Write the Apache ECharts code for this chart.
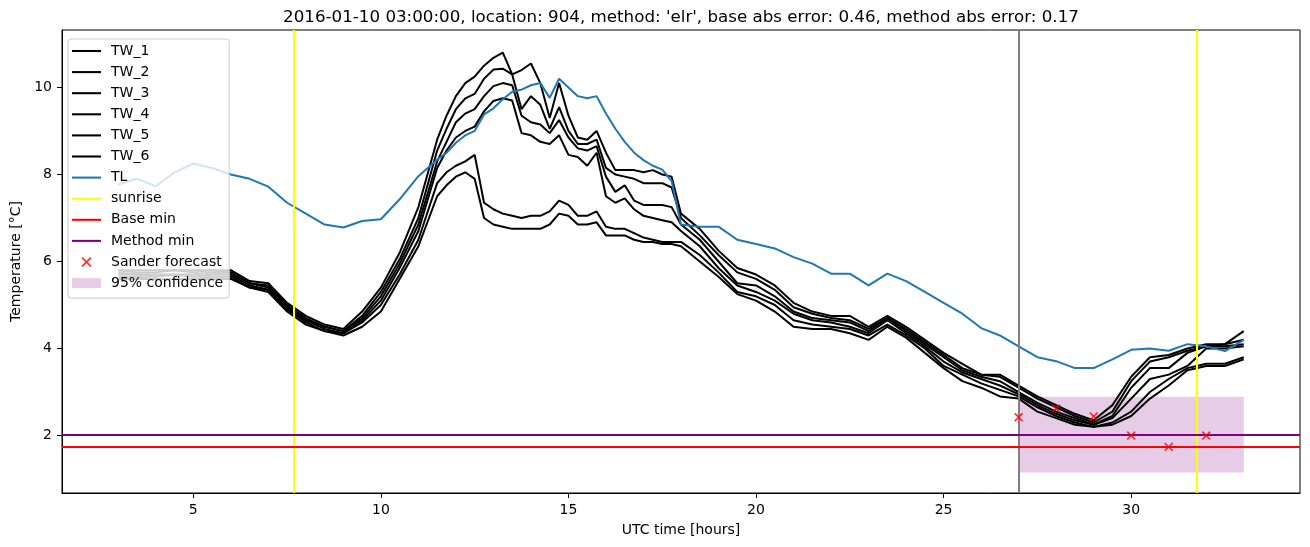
<!DOCTYPE html>
<html>
<head>
<meta charset="utf-8">
<script src="https://cdn.jsdelivr.net/npm/echarts@6/dist/echarts.min.js"></script>
<style>
  html, body { margin: 0; padding: 0; background: #fff; }
  #chart { width: 1310px; height: 547px; }
</style>
</head>
<body>
<div id="chart"></div>
<script>
// readings in UTC hours from 2016-01-10 00:00 (half-hourly, quarter-hourly around the peak)
const hours = [3, 3.5, 4, 4.5, 5, 5.5, 6, 6.5, 7, 7.5, 8, 8.5, 9, 9.5, 10, 10.5, 11, 11.5,
  11.75, 12, 12.25, 12.5, 12.75, 13, 13.25, 13.5, 13.75, 14, 14.25, 14.5, 14.75, 15, 15.25, 15.5, 15.75, 16, 16.25, 16.5, 16.75, 17, 17.25, 17.5, 17.75,
  18, 18.5, 19, 19.5, 20, 20.5, 21, 21.5, 22, 22.5, 23, 23.5, 24, 24.5, 25, 25.5, 26, 26.5, 27, 27.5, 28, 28.5, 29, 29.5, 30, 30.5, 31, 31.5, 32, 32.5, 33]

const tw1 = [5.8, 5.8, 5.8, 5.8, 5.8, 5.8, 5.8, 5.55, 5.5, 5.05, 4.75, 4.55, 4.45, 4.85, 5.4, 6.2, 7.25, 8.8,
  9.35, 9.8, 10.1, 10.25, 10.5, 10.68, 10.8, 10.3, 10.4, 10.55, 10.1, 9.3, 10.1, 9.35, 8.85, 8.8, 9.0, 8.5, 8.1, 8.1, 8.1, 8.05, 8.1, 8.0, 7.95,
  7.1, 6.75, 6.25, 5.85, 5.7, 5.45, 5.05, 4.85, 4.75, 4.75, 4.5, 4.75, 4.5, 4.2, 3.9, 3.65, 3.4, 3.4, 3.15, 2.9, 2.7, 2.5, 2.35, 2.7, 3.35, 3.8, 3.85, 4.0, 4.1, 4.1, 4.4]
const tw2 = [5.8, 5.75, 5.75, 5.8, 5.75, 5.8, 5.75, 5.5, 5.45, 5.0, 4.7, 4.5, 4.4, 4.75, 5.3, 6.05, 7.0, 8.55,
  9.05, 9.5, 9.75, 9.85, 10.2, 10.41, 10.43, 10.3, 9.5, 9.8, 9.6, 9.05, 9.55, 9.0, 8.7, 8.7, 8.8, 8.15, 8.0, 7.95, 7.9, 7.8, 7.8, 7.8, 7.7,
  7.0, 6.6, 6.15, 5.75, 5.6, 5.35, 4.95, 4.8, 4.7, 4.65, 4.45, 4.7, 4.45, 4.15, 3.85, 3.55, 3.4, 3.35, 3.1, 2.85, 2.65, 2.45, 2.3, 2.55, 3.25, 3.7, 3.8, 3.95, 4.05, 4.1, 4.2]
const tw3 = [5.75, 5.7, 5.7, 5.7, 5.7, 5.75, 5.75, 5.5, 5.4, 4.95, 4.65, 4.5, 4.4, 4.7, 5.2, 5.95, 6.85, 8.3,
  8.75, 9.2, 9.4, 9.5, 9.8, 10.03, 10.1, 10.05, 9.35, 9.2, 9.15, 8.95, 9.25, 8.85, 8.6, 8.55, 8.65, 7.95, 7.6, 7.75, 7.4, 7.3, 7.3, 7.3, 7.25,
  6.85, 6.5, 6.0, 5.5, 5.45, 5.2, 4.85, 4.7, 4.65, 4.6, 4.4, 4.7, 4.4, 4.1, 3.8, 3.5, 3.35, 3.25, 3.0, 2.75, 2.55, 2.4, 2.25, 2.45, 3.1, 3.55, 3.55, 3.9, 4.05, 4.05, 4.1]
const tw4 = [5.7, 5.7, 5.65, 5.7, 5.65, 5.7, 5.7, 5.45, 5.35, 4.95, 4.65, 4.45, 4.35, 4.65, 5.1, 5.85, 6.7, 8.15,
  8.55, 8.85, 9.0, 9.1, 9.45, 9.69, 9.75, 9.7, 8.95, 8.9, 8.75, 8.7, 8.9, 8.45, 8.4, 8.2, 8.5, 7.5, 7.35, 7.45, 7.2, 7.05, 7.0, 6.95, 6.9,
  6.7, 6.35, 5.85, 5.45, 5.3, 5.1, 4.8, 4.65, 4.6, 4.5, 4.35, 4.65, 4.35, 4.05, 3.7, 3.45, 3.3, 3.15, 2.95, 2.7, 2.5, 2.35, 2.25, 2.4, 2.85, 3.3, 3.4, 3.6, 4.0, 4.0, 4.05]
const tw5 = [5.65, 5.65, 5.6, 5.6, 5.6, 5.65, 5.65, 5.4, 5.35, 4.9, 4.6, 4.4, 4.35, 4.6, 5.0, 5.7, 6.5, 7.8,
  8.05, 8.2, 8.3, 8.45, 7.35, 7.2, 7.1, 7.05, 7.0, 7.05, 7.05, 7.15, 7.4, 7.3, 7.05, 7.05, 7.15, 6.8, 6.75, 6.75, 6.65, 6.55, 6.5, 6.45, 6.45,
  6.45, 6.15, 5.75, 5.3, 5.2, 5.0, 4.65, 4.55, 4.5, 4.45, 4.3, 4.55, 4.3, 4.0, 3.6, 3.4, 3.2, 3.05, 2.9, 2.65, 2.45, 2.3, 2.2, 2.3, 2.55, 3.0, 3.3, 3.55, 3.65, 3.65, 3.8]
const tw6 = [5.6, 5.6, 5.6, 5.6, 5.6, 5.6, 5.6, 5.4, 5.3, 4.85, 4.55, 4.4, 4.3, 4.5, 4.85, 5.6, 6.35, 7.5,
  7.75, 7.95, 8.05, 7.9, 7.0, 6.85, 6.8, 6.75, 6.75, 6.75, 6.75, 6.85, 7.1, 7.05, 6.85, 6.85, 6.9, 6.6, 6.6, 6.6, 6.5, 6.45, 6.45, 6.4, 6.4,
  6.35, 6.0, 5.65, 5.25, 5.1, 4.85, 4.5, 4.45, 4.45, 4.35, 4.2, 4.5, 4.25, 3.9, 3.55, 3.25, 3.1, 2.9, 2.85, 2.55, 2.4, 2.25, 2.2, 2.25, 2.45, 2.85, 3.15, 3.5, 3.6, 3.6, 3.75]
const tl = [7.77, 7.9, 7.73, 8.05, 8.25, 8.15, 8.0, 7.9, 7.72, 7.35, 7.1, 6.85, 6.78, 6.93, 6.97, 7.43, 7.96, 8.34,
  8.5, 8.73, 8.9, 9.0, 9.38, 9.52, 9.73, 9.9, 9.95, 10.05, 10.1, 9.76, 10.2, 10.0, 9.8, 9.75, 9.8, 9.4, 9.05, 8.75, 8.5, 8.33, 8.2, 8.11, 7.85,
  6.85, 6.8, 6.8, 6.5, 6.4, 6.3, 6.1, 5.95, 5.72, 5.72, 5.45, 5.72, 5.55, 5.3, 5.05, 4.8, 4.47, 4.3, 4.05, 3.8, 3.71, 3.55, 3.55, 3.75, 3.97, 4.0, 3.95, 4.1, 4.05, 3.94, 4.2]

const sunriseHours = [7.69, 31.74]
const forecastStart = 27.0
const baseMin = 1.75
const methodMin = 2.03

const sanderHours = [27, 28, 29, 30, 31, 32]
const sanderValues = [2.42, 2.62, 2.44, 2.0, 1.74, 2.0]

const confHours = [27, 33]
const confRange = [1.15, 2.89]

const xTicks = [5, 10, 15, 20, 25, 30]
const yTicks = [2, 4, 6, 8, 10]

const font = 'DejaVu Sans'
const lineIcon = 'path://M0,0H14V1H0Z'
const crossIcon = 'path://M0,1.3L1.3,0L5,3.7L8.7,0L10,1.3L6.3,5L10,8.7L8.7,10L5,6.3L1.3,10L0,8.7L3.7,5Z'

const pairs = vals => hours.map((h, i) => [h, vals[i]])

function twSeries(name, vals) {
  return {
    name: name,
    type: 'line',
    data: pairs(vals),
    symbol: 'none',
    color: '#000',
    lineStyle: { width: 2, color: '#000' },
    z: 3
  }
}

// vertical / horizontal reference lines
function refLine(name, color, lines) {
  return {
    name: name,
    type: 'line',
    data: [],
    symbol: 'none',
    color: color,
    lineStyle: { color: color, width: 2 },
    markLine: {
      silent: true,
      symbol: ['none', 'none'],
      label: { show: false },
      lineStyle: { type: 'solid', color: color, width: 2 },
      data: lines
    }
  }
}

const chart = echarts.init(document.getElementById('chart'))
chart.setOption({
  animation: false,
  backgroundColor: '#fff',
  textStyle: { fontFamily: font },
  title: {
    text: "2016-01-10 03:00:00, location: 904, method: 'elr', base abs error: 0.46, method abs error: 0.17",
    left: 681,
    top: 9,
    padding: 0,
    textAlign: 'center',
    textStyle: { fontFamily: font, fontSize: 16.7, fontWeight: 'normal', color: '#000' }
  },
  grid: { left: 62, right: 10, top: 30, bottom: 54, show: true, borderColor: '#000', borderWidth: 1, backgroundColor: 'transparent' },
  legend: {
    orient: 'vertical',
    left: 68,
    top: 39,
    padding: [5, 6, 8, 4],
    itemWidth: 29,
    itemHeight: 10,
    itemGap: 7.1,
    backgroundColor: 'rgba(255,255,255,0.8)',
    borderColor: '#cccccc',
    borderWidth: 1,
    borderRadius: 3,
    textStyle: { fontFamily: font, fontSize: 14, color: '#000', lineHeight: 14, padding: [0, 0, 0, 5] },
    data: [
      { name: 'TW_1', icon: lineIcon },
      { name: 'TW_2', icon: lineIcon },
      { name: 'TW_3', icon: lineIcon },
      { name: 'TW_4', icon: lineIcon },
      { name: 'TW_5', icon: lineIcon },
      { name: 'TW_6', icon: lineIcon },
      { name: 'TL', icon: lineIcon },
      { name: 'sunrise', icon: lineIcon },
      { name: 'Base min', icon: lineIcon },
      { name: 'Method min', icon: lineIcon },
      { name: 'Sander forecast', icon: crossIcon },
      { name: '95% confidence', icon: 'rect' }
    ]
  },
  xAxis: {
    type: 'value',
    min: 1.5,
    max: 34.5,
    name: 'UTC time [hours]',
    nameLocation: 'middle',
    nameGap: 30,
    nameTextStyle: { fontFamily: font, fontSize: 14, color: '#000' },
    axisLine: { lineStyle: { color: '#000', width: 1 } },
    axisTick: { show: true, length: 5, customValues: xTicks, lineStyle: { color: '#000' } },
    axisLabel: { customValues: xTicks, margin: 10, fontFamily: font, fontSize: 14, color: '#000' },
    splitLine: { show: false }
  },
  yAxis: {
    type: 'value',
    min: 0.68,
    max: 11.32,
    name: 'Temperature [°C]',
    nameLocation: 'middle',
    nameGap: 34,
    nameRotate: 90,
    nameTextStyle: { fontFamily: font, fontSize: 14, color: '#000' },
    axisLine: { show: true, lineStyle: { color: '#000', width: 1 } },
    axisTick: { show: true, length: 5, customValues: yTicks, lineStyle: { color: '#000' } },
    axisLabel: { customValues: yTicks, margin: 10, fontFamily: font, fontSize: 14, color: '#000' },
    splitLine: { show: false }
  },
  series: [
    {
      name: '95% confidence',
      type: 'custom',
      color: 'rgba(128,0,128,0.2)',
      z: 1,
      data: [[confHours[0], confHours[1], confRange[0], confRange[1]]],
      renderItem: function (params, api) {
        const p0 = api.coord([api.value(0), api.value(3)])
        const p1 = api.coord([api.value(1), api.value(2)])
        return {
          type: 'rect',
          shape: { x: p0[0], y: p0[1], width: p1[0] - p0[0], height: p1[1] - p0[1] },
          style: { fill: 'rgba(128,0,128,0.2)' }
        }
      }
    },
    twSeries('TW_1', tw1),
    twSeries('TW_2', tw2),
    twSeries('TW_3', tw3),
    twSeries('TW_4', tw4),
    twSeries('TW_5', tw5),
    twSeries('TW_6', tw6),
    {
      name: 'TL',
      type: 'line',
      data: pairs(tl),
      symbol: 'none',
      color: '#1f77b4',
      lineStyle: { width: 2, color: '#1f77b4' },
      z: 3
    },
    refLine('sunrise', '#ffff00', sunriseHours.map(h => ({ xAxis: h })).concat([
      { xAxis: forecastStart, lineStyle: { color: '#808080', width: 2 } }
    ])),
    refLine('Base min', '#ff0000', [{ yAxis: baseMin }]),
    refLine('Method min', '#800080', [{ yAxis: methodMin }]),
    {
      name: 'Sander forecast',
      type: 'scatter',
      data: sanderHours.map((h, i) => [h, sanderValues[i]]),
      symbol: crossIcon,
      symbolSize: 9,
      color: '#ff0000',
      z: 5
    }
  ]
})
</script>
</body>
</html>
